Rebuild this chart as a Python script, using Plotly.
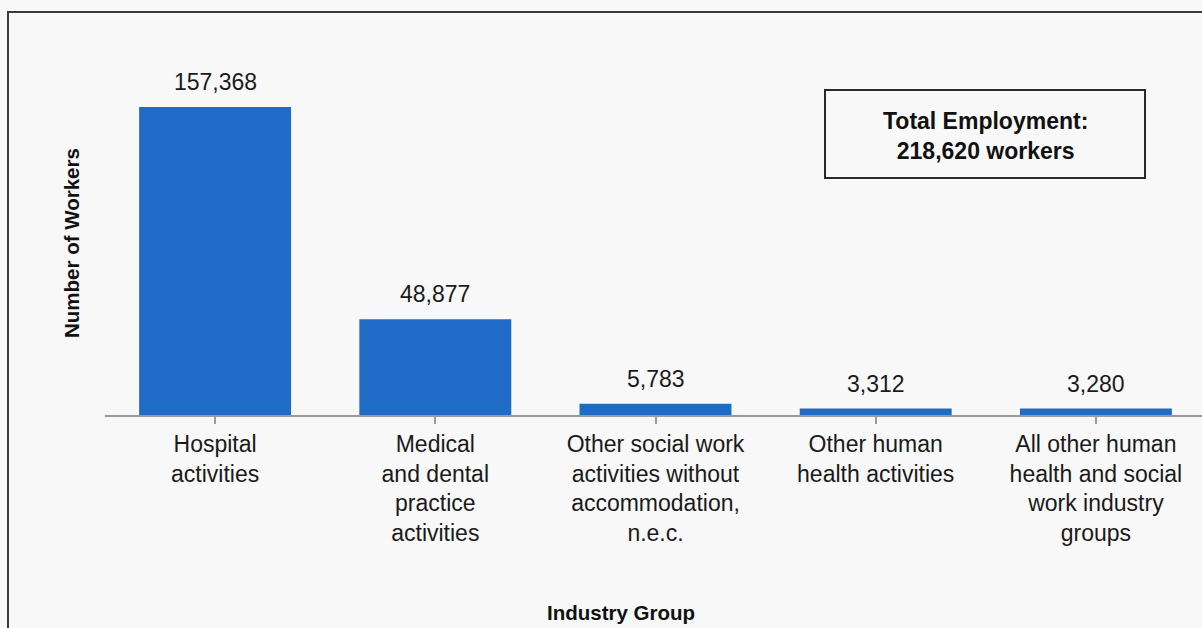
import plotly.graph_objects as go

categories = [
    "Hospital<br>activities",
    "Medical<br>and dental<br>practice<br>activities",
    "Other social work<br>activities without<br>accommodation,<br>n.e.c.",
    "Other human<br>health activities",
    "All other human<br>health and social<br>work industry<br>groups",
]
workers = [157368, 48877, 5783, 3312, 3280]
value_labels = ["157,368", "48,877", "5,783", "3,312", "3,280"]
total_text = "Total Employment:<br>218,620 workers"

W, H = 1202, 628
L, R, T, B = 105, 0, 63, 213
plot_w = W - L - R
plot_h = H - T - B
FONT = "Liberation Sans, Arial, sans-serif"

fig = go.Figure()
fig.add_trace(go.Bar(
    x=list(range(len(categories))),
    y=workers,
    width=0.69,
    marker=dict(color="#1E6CC8", line=dict(width=0)),
    hoverinfo="skip",
))

for i, (v, lab) in enumerate(zip(workers, value_labels)):
    fig.add_annotation(x=i, y=v, text=lab, showarrow=False, yanchor="bottom",
                       yshift=10, font=dict(family=FONT, size=23, color="#1a1a1a"))

def px_x(p):
    return (p - L) / plot_w

def px_y(p):
    return (H - B - p) / plot_h

# outer frame
fig.add_shape(type="rect", xref="paper", yref="paper",
              x0=px_x(8), x1=px_x(1215), y0=px_y(640), y1=px_y(12),
              line=dict(color="#3a3a3a", width=2), fillcolor="rgba(0,0,0,0)", layer="below")

# total employment box
fig.add_shape(type="rect", xref="paper", yref="paper",
              x0=px_x(825), x1=px_x(1145), y0=px_y(178), y1=px_y(90),
              line=dict(color="#2a2a2a", width=2), fillcolor="rgba(0,0,0,0)")
fig.add_annotation(xref="paper", yref="paper", x=px_x(985), y=px_y(136),
                   xanchor="center", yanchor="middle",
                   text="<b>" + total_text + "</b>", showarrow=False,
                   font=dict(family=FONT, size=23, color="#111111"))

# axis titles
fig.add_annotation(xref="paper", yref="paper", x=px_x(71), y=px_y(243),
                   xanchor="center", yanchor="middle",
                   text="<b>Number of Workers</b>", textangle=-90, showarrow=False,
                   font=dict(family=FONT, size=20.5, color="#111111"))
fig.add_annotation(xref="paper", yref="paper", x=px_x(621), y=px_y(612),
                   xanchor="center", yanchor="middle",
                   text="<b>Industry Group</b>", showarrow=False,
                   font=dict(family=FONT, size=20.5, color="#111111"))

fig.update_layout(
    width=W, height=H,
    margin=dict(l=L, r=R, t=T, b=B, pad=0),
    paper_bgcolor="#f8f8f8", plot_bgcolor="#f8f8f8",
    showlegend=False,
    xaxis=dict(
        tickmode="array", tickvals=list(range(len(categories))), ticktext=categories,
        range=[-0.5, -0.5 + plot_w / 220.2],
        tickson="boundaries", ticks="outside", ticklen=7, tickcolor="#9a9a9a", tickwidth=2,
        showline=True, linecolor="#9a9a9a", linewidth=2,
        showgrid=False, zeroline=False,
        tickfont=dict(family=FONT, size=23, color="#1a1a1a"),
        fixedrange=True,
    ),
    yaxis=dict(
        range=[0, 157368 * plot_h / 308],
        showticklabels=False, showgrid=False, zeroline=False, showline=False, ticks="",
        fixedrange=True,
    ),
)

fig.write_html("out.html", config={"displayModeBar": False},
               post_script="document.body.style.margin='0';document.body.style.background='#f8f8f8';")
